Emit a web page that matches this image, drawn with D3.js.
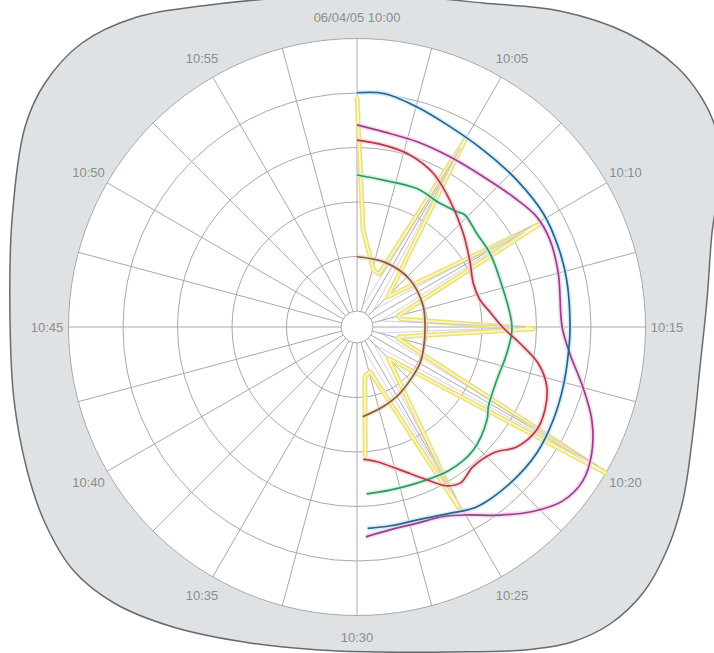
<!DOCTYPE html>
<html>
<head>
<script src="https://d3js.org/d3.v7.min.js"></script>
<title>polar trace</title>
<style>
  body { margin: 0; background: #fff; }
  svg { display: block; }
  text { font-family: "Liberation Sans", Arial, sans-serif; font-size: 13px; fill: #8c8c8c; }
</style>
</head>
<body>
<svg id="chart" width="714" height="653"></svg>
<script>
// minute labels, every 5 minutes clockwise from the top
var timeLabels = ["06/04/05 10:00", "10:05", "10:10", "10:15", "10:20", "10:25",
                  "10:30", "10:35", "10:40", "10:45", "10:50", "10:55"];
var labelMinutes = [0, 5, 10, 15, 20, 25, 30, 35, 40, 45, 50, 55];
var ringValues = [0, 20, 40, 60, 80, 100];
var spokeMinutes = [0, 2.5, 5, 7.5, 10, 12.5, 15, 17.5, 20, 22.5, 25, 27.5,
                    30, 32.5, 35, 37.5, 40, 42.5, 45, 47.5, 50, 52.5, 55, 57.5];

// series: [minute after 10:00, value]
var blueSeries = [[0,80.1],[1.1,80.4],[2.5,77.9],[4.15,75.2],[5.9,73.9],[7.9,73.8],[9.8,74.2],
  [11.4,73.6],[12.9,73],[15,72.3],[16.2,72.3],[17.7,72.9],[19.2,73.8],[20.85,74.7],[22.6,74.4],
  [24.4,73.4],[25.6,70.5],[27.1,68.3],[28.4,68.1],[29.5,68.1]];
var purpleSeries = [[0,68.3],[1.3,66.4],[3,65.6],[4.8,65.3],[6.7,66.2],[8.4,68.8],[9.75,71.5],
  [10.95,71.8],[12.5,70.6],[15,69.4],[16.2,72.9],[17.5,80],[18.6,86.8],[19.7,91.9],[20.7,94.4],
  [21.7,93],[22.7,87.8],[23.8,80.8],[24.95,74],[25.9,70.6],[27.2,69.4],[28.5,69.6],[29.6,71.2]];
var redSeries = [[0,62.7],[1.4,61.6],[2.85,60.2],[4.4,57.1],[6,51.9],[8.1,46.1],[10,42],
  [11.6,39.7],[12.9,40.3],[14,43.5],[15,47.5],[15.95,54.2],[16.9,62],[17.9,67.1],[18.97,69.5],
  [19.97,70.1],[21.15,67.4],[22.1,62.3],[23.4,60.8],[24.4,62.8],[25.1,61],[25.9,55.8],
  [27.2,48.9],[28.6,44.1],[29.55,42.7]];
var greenSeries = [[0,49.9],[1.7,48.9],[3.9,49.5],[5.65,48.8],[6.8,50.1],[7.3,51.2],[8.65,49.9],
  [10.2,49.9],[11.96,49.4],[15,51],[16.7,49.9],[18.5,49],[20.2,50.5],[20.9,52.7],[22.8,56.3],
  [24.5,56.7],[26.5,55.5],[28.1,55.2],[29.45,55.5]];
var brownSeries = [[0,19.9],[4,20],[8,20.2],[12,19.6],[15,19.1],[18,19.8],[20,20.8],
  [24.5,23.1],[27,24.9],[29.4,27.1]];
var yellowSeries = [[0,78.7],[0.6,29.8],[2.7,15.9],[3.8,15.2],[5,73.4],[7.6,10],[10.1,71.3],
  [12.4,10],[13.3,10.5],[15.1,58.9],[17.2,10],[17.6,9.7],[20.07,100],[22.5,10.4],[25.1,70.3],
  [27.3,11.2],[28.5,12.6],[29.4,41.8]];
var lavenderSeries = [[2.9,3],[5,70],[7.4,3],[10,68],[12.6,3],[15,56],[17.4,3],[20,96],
  [22.6,3],[25,67],[27.2,3]];

// grey bezel around the plot (decoration only)
var frameOutline = [[357,-6],[430,-2],[483,3],[560,11],[627,33],[677,67],[703,100],[716,130],
  [720,175],[712,233],[707,300],[700,367],[693,433],[683,500],[667,550],[643,593],[610,624],
  [572,642],[525,650],[450,652],[380,652],[319,650],[250,643],[173,627],[114,603],[73,570],
  [45,523],[27,470],[14,400],[10,320],[12,220],[25,127],[45,83],[82,43],[137,17],[209,5],[280,-2]];

var svg = d3.select("#chart");
var cx = 357, cy = 327;
var angle = d3.scaleLinear().domain([0, 60]).range([0, 2 * Math.PI]);
var radius = d3.scaleLinear().domain([0, 100]).range([16, 288.5]);

svg.append("path")
  .attr("d", d3.line().curve(d3.curveCatmullRomClosed)(frameOutline))
  .attr("fill", "#dfe2e5")
  .attr("stroke", "#6a6a6a")
  .attr("stroke-width", 1.5);

var g = svg.append("g").attr("transform", "translate(" + cx + "," + cy + ")");

g.append("circle").attr("r", radius(100)).attr("fill", "#fff");

// spokes
g.selectAll("line.spoke").data(spokeMinutes).enter()
  .append("line")
  .attr("class", "spoke")
  .attr("x1", d => radius(0) * Math.sin(angle(d)))
  .attr("y1", d => -radius(0) * Math.cos(angle(d)))
  .attr("x2", d => radius(100) * Math.sin(angle(d)))
  .attr("y2", d => -radius(100) * Math.cos(angle(d)))
  .attr("stroke", "#a9a9a9")
  .attr("stroke-width", 1);

// rings
g.selectAll("circle.ring").data(ringValues).enter()
  .append("circle")
  .attr("class", "ring")
  .attr("r", d => radius(d))
  .attr("fill", "none")
  .attr("stroke", "#a9a9a9")
  .attr("stroke-width", 1);

var smooth = d3.lineRadial()
  .angle(d => angle(d[0]))
  .radius(d => radius(d[1]))
  .curve(d3.curveCatmullRom.alpha(0.5));
var straight = d3.lineRadial()
  .angle(d => angle(d[0]))
  .radius(d => radius(d[1]));

var series = [
  {data: brownSeries, line: smooth, color: "#8c5a3c", halo: "#eadcc8"},
  {data: greenSeries, line: smooth, color: "#2e9a62", halo: "#cdeedb"},
  {data: redSeries, line: smooth, color: "#b43a4a", halo: "#f5cdd2"},
  {data: purpleSeries, line: smooth, color: "#9a3f8a", halo: "#f1cfea"},
  {data: blueSeries, line: smooth, color: "#2f5f8f", halo: "#c6ebf5"}
];

// yellow spikes: wide soft band with a paler centre
g.append("path").attr("d", straight(yellowSeries))
  .attr("fill", "none").attr("stroke", "#ece27a").attr("stroke-width", 5)
  .attr("stroke-linejoin", "round");
g.append("path").attr("d", straight(yellowSeries))
  .attr("fill", "none").attr("stroke", "#fbf7d6").attr("stroke-width", 1.6)
  .attr("stroke-linejoin", "round");
g.append("path").attr("d", straight(lavenderSeries))
  .attr("fill", "none").attr("stroke", "#b6aee6").attr("stroke-width", 1)
  .attr("opacity", 0.6);

series.forEach(function(s) {
  g.append("path").attr("d", s.line(s.data))
    .attr("fill", "none").attr("stroke", s.halo).attr("stroke-width", 5)
    .attr("opacity", 0.7);
});
series.forEach(function(s) {
  g.append("path").attr("d", s.line(s.data))
    .attr("fill", "none").attr("stroke", s.color).attr("stroke-width", 1.7);
});

// time labels
g.selectAll("text.tlabel").data(labelMinutes).enter()
  .append("text")
  .attr("class", "tlabel")
  .attr("x", d => 310 * Math.sin(angle(d)))
  .attr("y", d => -310 * Math.cos(angle(d)))
  .attr("dy", "0.35em")
  .attr("text-anchor", "middle")
  .text((d, i) => timeLabels[i]);
</script>
</body>
</html>
